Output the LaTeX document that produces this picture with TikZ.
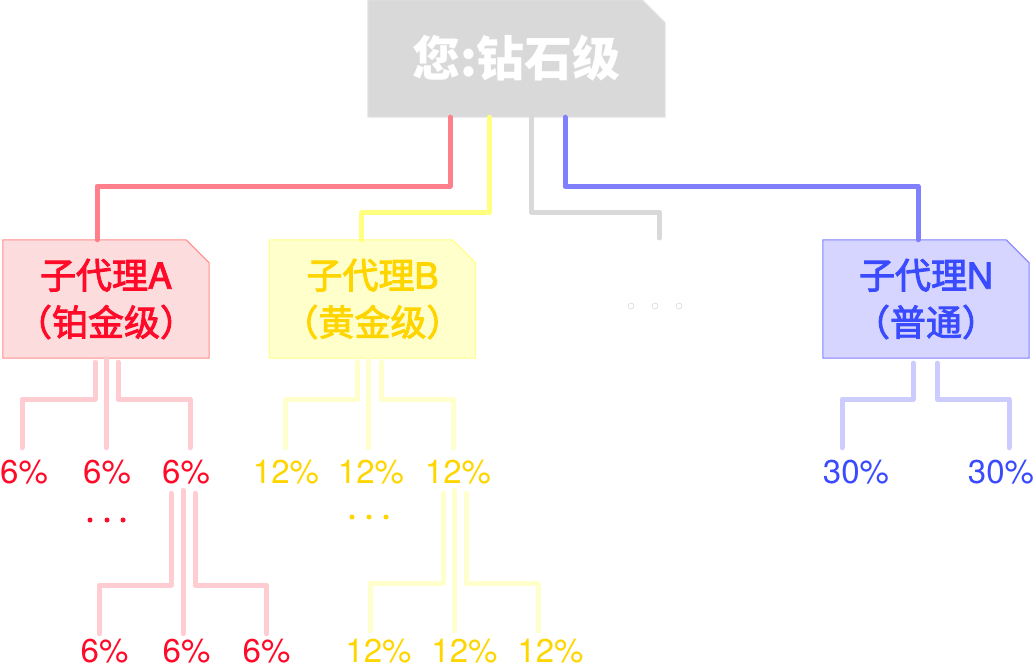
\documentclass[tikz,border=0pt]{standalone}
\usepackage{fontspec}
\setmainfont{TeX Gyre Heros}
\newfontfamily\cjk{Noto Sans CJK SC}
\newfontfamily\cjkmid[FakeBold=2.5]{Noto Sans CJK SC}
\newfontfamily\latmid[FakeBold=2.5]{TeX Gyre Heros}
\usepackage{tikz}
\usetikzlibrary{positioning}
\usetikzlibrary{backgrounds}
\definecolor{grayfill}{HTML}{D9D9D9}
\definecolor{grayedge}{HTML}{E3E3E3}
\definecolor{redline}{HTML}{FF808A}
\definecolor{redfill}{HTML}{FCDCDC}
\definecolor{rededge}{HTML}{FF8C8C}
\definecolor{redtext}{HTML}{FF0A28}
\definecolor{redsub}{HTML}{FFCCD2}
\definecolor{yelline}{HTML}{FFFF80}
\definecolor{yelfill}{HTML}{FFFFCC}
\definecolor{yeledge}{HTML}{FFFF88}
\definecolor{yeltext}{HTML}{FFD500}
\definecolor{yelsub}{HTML}{FFFFCC}
\definecolor{bluline}{HTML}{8080FF}
\definecolor{blufill}{HTML}{D5D5FF}
\definecolor{bluedge}{HTML}{8080FF}
\definecolor{blutext}{HTML}{3A4BFF}
\definecolor{blusub}{HTML}{CCCCFF}
% box with the top right corner cut off, drawn behind node #1
\newcommand{\cutframe}[3]{%
\begin{scope}[on background layer]
\draw[line width=1pt, fill=#2, draw=#3] (#1.north west) -- ([xshift=-23pt]#1.north east)
  -- ([yshift=-23pt]#1.north east) -- (#1.south east) -- (#1.south west) -- cycle;
\end{scope}}
\tikzset{
  youbox/.style={inner sep=0pt, minimum width=297pt, minimum height=117pt,
    text=white, font=\cjk\bfseries\fontsize{48}{48}\selectfont},
  agentbox/.style={inner sep=0pt, minimum width=206pt, minimum height=118pt,
    align=center, font=\fontsize{36}{47}\selectfont},
  pct/.style={inner sep=0pt, font=\fontsize{33}{33}\selectfont},
  link/.style={line width=5pt, line cap=round, line join=round},
}
\begin{document}
\begin{tikzpicture}[x=1pt,y=-1pt]
\useasboundingbox (0,0) rectangle (1035,668);
% boxes
\node[youbox] (you) at (516.5,58.5) {您:钻石级};
\node[agentbox, text=redtext] (a) at (106,299)
  {{\cjkmid 子代理}{\latmid A}\\{\cjkmid （铂金级）}};
\node[agentbox, text=yeltext] (b) at (372.5,299)
  {{\cjkmid 子代理}{\latmid B}\\{\cjkmid （黄金级）}};
\node[agentbox, text=blutext] (n) at (926,299)
  {{\cjkmid 子代理}{\latmid N}\\{\cjkmid （普通）}};
\cutframe{you}{grayfill}{grayedge}
\cutframe{a}{redfill}{rededge}
\cutframe{b}{yelfill}{yeledge}
\cutframe{n}{blufill}{bluedge}
\coordinate (more) at (659,238);
% links from the top
\draw[link, redline] ([xshift=-66.5pt]you.south) -- ++(0,69) -| ([xshift=-9pt]a.north);
\draw[link, yelline] ([xshift=-27.5pt]you.south) -- ++(0,95) -| ([xshift=-11.5pt]b.north);
\draw[link, grayfill] ([xshift=14.5pt]you.south) -- ++(0,95) -| (more);
\draw[link, bluline] ([xshift=48.5pt]you.south) -- ++(0,69) -| ([xshift=-8pt]n.north);
\foreach \x in {631,655,679}{
\draw[grayfill, line width=0.6pt] (\x,306) circle (3);
}
% percents
\node[pct, text=redtext] (a1) at (24,472) {6\%};
\node[pct, text=redtext] (a2) at (107,472) {6\%};
\node[pct, text=redtext] (a3) at (186,472) {6\%};
\node[pct, text=redtext] (a31) at (104.5,651) {6\%};
\node[pct, text=redtext] (a32) at (186.5,651) {6\%};
\node[pct, text=redtext] (a33) at (266.5,651) {6\%};
\node[pct, text=yeltext] (b1) at (286,472) {12\%};
\node[pct, text=yeltext] (b2) at (371,472) {12\%};
\node[pct, text=yeltext] (b3) at (458,472) {12\%};
\node[pct, text=yeltext] (b31) at (378.5,651) {12\%};
\node[pct, text=yeltext] (b32) at (464.5,651) {12\%};
\node[pct, text=yeltext] (b33) at (550.5,651) {12\%};
\node[pct, text=blutext] (n1) at (856,472) {30\%};
\node[pct, text=blutext] (n2) at (1001,472) {30\%};
% links under A
\draw[link, redsub] ([xshift=-11pt,yshift=-4pt]a.south) -- ++(0,37) -| ([xshift=-2pt,yshift=12pt]a1.north);
\draw[link, redsub] (a.south) -- ([xshift=-1pt,yshift=12pt]a2.north);
\draw[link, redsub] ([xshift=12pt,yshift=-4pt]a.south) -- ++(0,37) -| ([xshift=4pt,yshift=12pt]a3.north);
\draw[link, redsub] ([xshift=-15pt,yshift=-9pt]a3.south) -- ++(0,92) -| ([xshift=-5.5pt,yshift=5pt]a31.north);
\draw[link, redsub] ([xshift=-3pt,yshift=-6pt]a3.south) -- ([xshift=-3.5pt,yshift=5pt]a32.north);
\draw[link, redsub] ([xshift=9pt,yshift=-9pt]a3.south) -- ++(0,92) -| ([yshift=5pt]a33.north);
\foreach \x in {90,107,123}{
\fill[redtext] (\x,520) circle (2.5);
}
% links under B
\draw[link, yelsub] ([xshift=-15.5pt,yshift=-4pt]b.south) -- ++(0,37) -| ([xshift=-1pt,yshift=12pt]b1.north);
\draw[link, yelsub] ([xshift=-4.5pt]b.south) -- ([xshift=-3pt,yshift=12pt]b2.north);
\draw[link, yelsub] ([xshift=8.5pt,yshift=-4pt]b.south) -- ++(0,37) -| ([xshift=-5pt,yshift=12pt]b3.north);
\draw[link, yelsub] ([xshift=-15pt,yshift=-9pt]b3.south) -- ++(0,90) -| ([xshift=-8.5pt,yshift=8pt]b31.north);
\draw[link, yelsub] ([xshift=-4pt,yshift=-6pt]b3.south) -- ([xshift=-10.5pt,yshift=8pt]b32.north);
\draw[link, yelsub] ([xshift=8pt,yshift=-9pt]b3.south) -- ++(0,90) -| ([xshift=-12pt,yshift=8pt]b33.north);
\foreach \x in {352,369,386}{
\fill[yeltext] (\x,517) circle (2.5);
}
% links under N
\draw[link, blusub] ([xshift=-13pt,yshift=-5pt]n.south) -- ++(0,36) -| ([xshift=-14pt,yshift=12pt]n1.north);
\draw[link, blusub] ([xshift=11pt,yshift=-5pt]n.south) -- ++(0,36) -| ([xshift=8pt,yshift=12pt]n2.north);
\end{tikzpicture}
\end{document}
